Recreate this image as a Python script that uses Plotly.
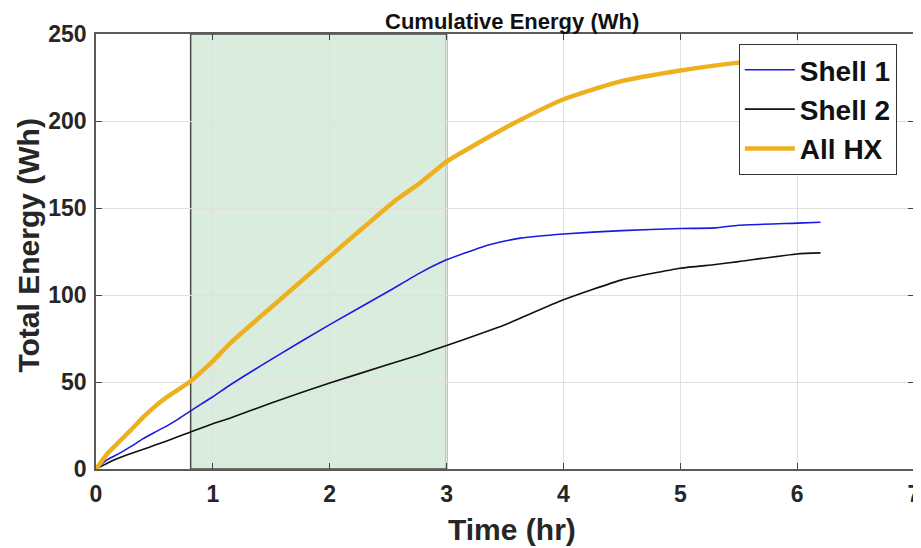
import plotly.graph_objects as go

# Time (hr) samples for the shell series
t_shell = [0, 0.1, 0.2, 0.3, 0.4, 0.5, 0.6, 0.7, 0.8, 1.0, 1.15, 1.5, 2.0, 2.5, 2.77, 3.0,
           3.3, 3.5, 3.63, 4.0, 4.5, 5.0, 5.3, 5.5, 6.0, 6.2]
shell1 = [0, 5.5, 9, 13, 17.3, 21, 24.5, 28.5, 33, 41.5, 48.4, 63, 83, 102, 112.6, 120.2,
          127.5, 131, 132.7, 135.1, 137, 138.2, 138.6, 140.1, 141.3, 141.8]
shell2 = [0, 3.5, 6.4, 8.9, 11.2, 13.6, 16, 18.5, 21, 26, 29.3, 38, 49.4, 60, 65.7, 71,
          78, 82.9, 86.6, 97.2, 108.7, 115.4, 117.5, 119.2, 123.6, 124.2]

# Time (hr) samples for the total series
t_all = [0, 0.1, 0.2, 0.3, 0.4, 0.5, 0.6, 0.7, 0.8, 1.0, 1.15, 1.5, 2.0, 2.57, 2.77, 3.0,
         3.3, 3.5, 3.63, 4.0, 4.48, 5.0, 5.48, 6.0, 6.2]
all_hx = [0, 9, 15.8, 22.5, 29.5, 35.7, 41, 45.5, 50, 62, 72.4, 93, 122.1, 154.7, 164.2, 176.7,
          188.5, 196, 200.6, 212.5, 222.6, 229, 233.4, 236, 237]

shade_x = [0.81, 3.0]
x_ticks = [0, 1, 2, 3, 4, 5, 6, 7]
y_ticks = [0, 50, 100, 150, 200, 250]

FONT = "Liberation Sans, Arial, sans-serif"

fig = go.Figure()
fig.add_trace(go.Scatter(x=t_shell, y=shell1, mode="lines", name="Shell 1",
                         line=dict(color="#1a1ae0", width=1.6, shape="spline", smoothing=0.5)))
fig.add_trace(go.Scatter(x=t_shell, y=shell2, mode="lines", name="Shell 2",
                         line=dict(color="#111111", width=1.6, shape="spline", smoothing=0.5)))
fig.add_trace(go.Scatter(x=t_all, y=all_hx, mode="lines", name="All HX",
                         line=dict(color="#EDB120", width=4.5, shape="spline", smoothing=0.5)))

fig.add_shape(type="rect", xref="x", yref="y", x0=shade_x[0], x1=shade_x[1],
              y0=y_ticks[0], y1=y_ticks[-1],
              fillcolor="rgba(150,200,160,0.35)", line=dict(color="#4a4a4a", width=1.5),
              layer="below")

tickfont = dict(family=FONT, size=23, color="#262626", weight="bold")
axis_common = dict(showline=True, linecolor="#5a5a5a", linewidth=1.5, mirror="ticks",
                   ticks="inside", ticklen=6, tickcolor="#444444",
                   showgrid=True, gridcolor="#e0e0e0", gridwidth=1, zeroline=False,
                   tickfont=tickfont, automargin=False)

fig.update_layout(
    width=913, height=540,
    margin=dict(l=88, r=7, t=26, b=79),
    paper_bgcolor="white", plot_bgcolor="white",
    xaxis=dict(range=[x_ticks[0], x_ticks[-1]], tickvals=x_ticks, ticklabelstandoff=4,
               **axis_common),
    yaxis=dict(range=[y_ticks[0], y_ticks[-1]], tickvals=y_ticks, ticklabelstandoff=3,
               **axis_common),
    legend=dict(x=0.979, y=0.977, xanchor="right", yanchor="top",
                bgcolor="white", bordercolor="#333333", borderwidth=1,
                font=dict(family=FONT, size=28, color="#111111", weight="bold"),
                tracegroupgap=0, itemwidth=50),
    showlegend=True,
    annotations=[
        dict(text="Cumulative Energy (Wh)", xref="paper", yref="paper", x=0.509, y=1,
             yshift=13, xanchor="center", yanchor="middle", showarrow=False,
             font=dict(family=FONT, size=22, color="#111111", weight="bold")),
        dict(text="Time (hr)", xref="paper", yref="paper", x=0.509, y=-0.140,
             xanchor="center", yanchor="middle", showarrow=False,
             font=dict(family=FONT, size=30, color="#262626", weight="bold")),
        dict(text="Total Energy (Wh)", xref="paper", yref="paper", x=-0.0837, y=0.5126,
             xanchor="center", yanchor="middle", showarrow=False, textangle=-90,
             font=dict(family=FONT, size=30, color="#262626", weight="bold")),
    ],
)

fig.write_html("out.html")
